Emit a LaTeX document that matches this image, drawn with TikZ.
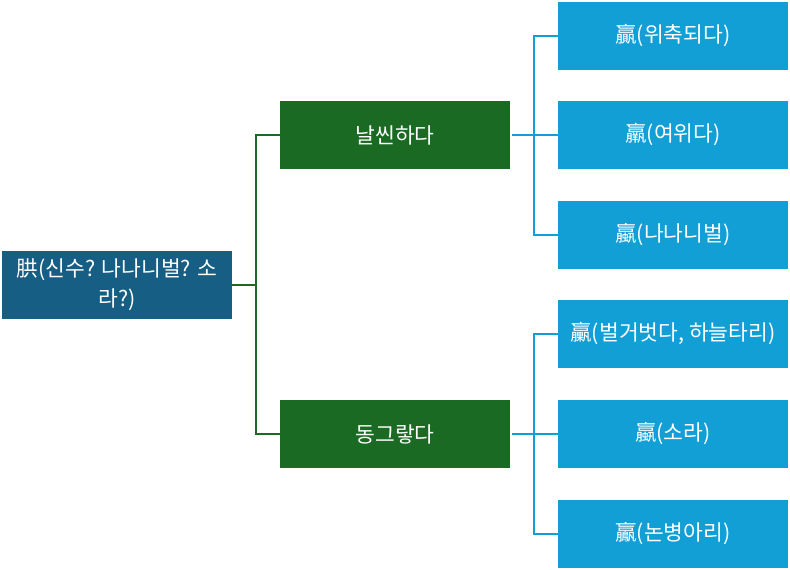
\documentclass[tikz,border=0pt]{standalone}
\usepackage{fontspec}
\setmainfont{Noto Sans CJK KR}
\begin{document}
\begin{tikzpicture}[x=1pt,y=-1pt,
  box/.style={minimum width=230pt,minimum height=68pt,inner sep=0pt,text=white,align=center,font=\fontsize{21.5}{30}\selectfont},
  rootbox/.style={box,fill=rootc},
  midbox/.style={box,fill=midc},
  leafbox/.style={box,fill=leafc},
  gline/.style={draw=midc,line width=1.6pt},
  bline/.style={draw=leafc,line width=1.6pt}]
\definecolor{rootc}{HTML}{175E85}
\definecolor{midc}{HTML}{1B6A23}
\definecolor{leafc}{HTML}{129FD6}
\useasboundingbox (0,0) rectangle (790,570);
\node[rootbox] (r) at (117,285) {㬴(신수? 나나니벌? 소\\라?)};
\node[midbox] (m1) at (395,135) {날씬하다};
\node[midbox] (m2) at (395,434) {동그랗다};
\node[leafbox] (l1) at (673,36) {贏(위축되다)};
\node[leafbox] (l2) at (673,135) {羸(여위다)};
\node[leafbox] (l3) at (673,235) {蠃(나나니벌)};
\node[leafbox] (l4) at (673,334) {臝(벌거벗다, 하늘타리)};
\node[leafbox] (l5) at (673,434) {蠃(소라)};
\node[leafbox] (l6) at (673,534) {鸁(논병아리)};
\coordinate (jr) at (256,285);
\coordinate (j1) at (534,135);
\coordinate (j2) at (534,434);
\draw[gline] (r.east) -- (jr);
\draw[gline] (jr) |- (m1.west);
\draw[gline] (jr) |- (m2.west);
\draw[bline] ([xshift=2pt]m1.east) -- (j1);
\draw[bline] (j1) |- (l1.west);
\draw[bline] (j1) |- (l2.west);
\draw[bline] (j1) |- (l3.west);
\draw[bline] ([xshift=2pt]m2.east) -- (j2);
\draw[bline] (j2) |- (l4.west);
\draw[bline] (j2) |- (l5.west);
\draw[bline] (j2) |- (l6.west);
\end{tikzpicture}
\end{document}
